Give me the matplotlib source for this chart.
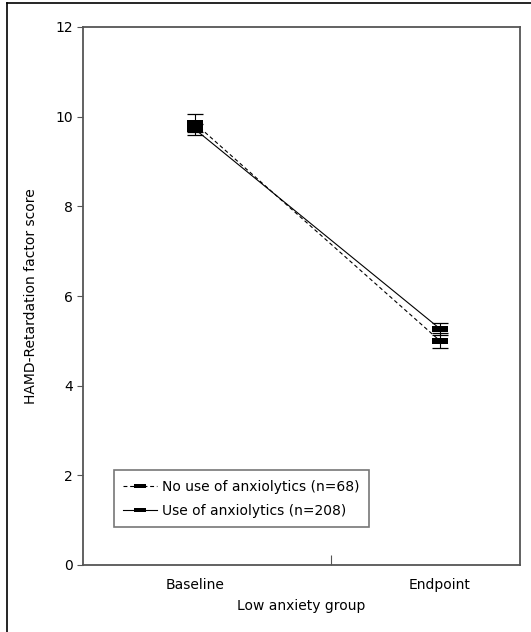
""" Low anxiety group: HAMD retardation factor score over time """
import numpy as np
import matplotlib.pyplot as plt
from matplotlib.lines import Line2D
from matplotlib.path import Path

plt.rcParams['font.family'] = ['DejaVu Sans']

# Data
timepoints = ["Baseline", "Endpoint"]
no_use_mean = [9.85, 5.0]
no_use_err = [0.2, 0.17]
use_mean = [9.72, 5.27]
use_err = [0.12, 0.13]
labels = ["No use of anxiolytics (n=68)", "Use of anxiolytics (n=208)"]

fig = plt.figure(figsize=(5.31, 6.32), dpi=100)
ax = fig.add_axes([83/531, 1 - 565/632, 437/531, 538/632])

# wide rectangle marker
rect = Path([(-1, -0.4), (1, -0.4), (1, 0.4), (-1, 0.4), (-1, -0.4)],
            [Path.MOVETO, Path.LINETO, Path.LINETO, Path.LINETO, Path.CLOSEPOLY])

x = np.arange(len(timepoints))
eb1 = ax.errorbar(x, no_use_mean, yerr=no_use_err, color='k', ls='--', lw=0.8,
                  marker=rect, ms=12, capsize=5.8, elinewidth=0.8, capthick=0.9,
                  dashes=(3.5, 2.5))
eb2 = ax.errorbar(x, use_mean, yerr=use_err, color='k', ls='-', lw=0.8,
                  marker=rect, ms=12, capsize=5.8, elinewidth=0.8, capthick=0.9)
for eb in (eb1, eb2):
    eb[0].set_markeredgewidth(0)

ax.set_xlim(-0.457, 1.327)
ax.set_ylim(0, 12)
ax.set_yticks(np.arange(0, 13, 2))
ax.set_xticks([0.555])
ax.set_xticklabels([""])
ax.tick_params(axis='x', direction='in', length=7, color='#555555')
ax.tick_params(axis='y', direction='out', length=4, labelsize=10, color='#555555')
for i, t in enumerate(timepoints):
    ax.text(x[i], -0.3, t, ha='center', va='top', fontsize=10,
            transform=ax.transData)
for s in ax.spines.values():
    s.set_color('#555555')
    s.set_linewidth(1.3)

ax.set_ylabel("HAMD-Retardation factor score", fontsize=10, labelpad=12)
fig.text(301/531, 1 - 606/632, "Low anxiety group", ha='center', va='center',
         fontsize=10)

handles = [
    Line2D([], [], color='k', ls='--', lw=0.8, dashes=(3.5, 2.5),
           marker=rect, ms=8, mew=0),
    Line2D([], [], color='k', ls='-', lw=0.8, marker=rect, ms=8, mew=0),
]
leg = ax.legend(handles, labels, loc='lower left', bbox_to_anchor=(0.07, 0.07),
                fontsize=10, frameon=True, fancybox=False, edgecolor='#555555',
                handlelength=2.4, borderpad=0.7, labelspacing=0.7,
                handletextpad=0.4, borderaxespad=0)
leg.get_frame().set_linewidth(1.2)

# outer frame (left and top)
fig.add_artist(Line2D([7/531, 7/531], [0, 1 - 3/632], transform=fig.transFigure,
                      color='k', lw=1.2))
fig.add_artist(Line2D([7/531, 1], [1 - 3/632, 1 - 3/632], transform=fig.transFigure,
                      color='k', lw=1.2))

fig.savefig("out.png", dpi=100)
